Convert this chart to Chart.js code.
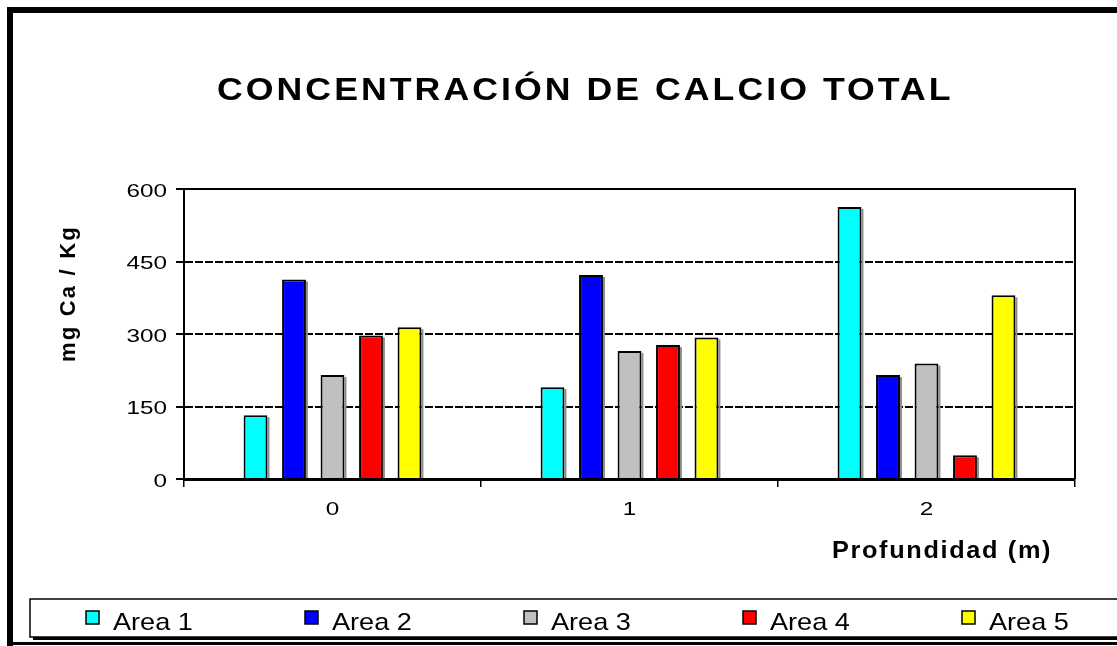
<!DOCTYPE html>
<html>
<head>
<meta charset="utf-8">
<script src="https://cdn.jsdelivr.net/npm/chart.js@4.4.0/dist/chart.umd.min.js"></script>
<style>
    html, body { margin: 0; padding: 0; background: #fff; }
    #wrap { width: 1117px; height: 646px; }
</style>
</head>
<body>
<div id="wrap"><canvas id="calcioChart" width="1117" height="646"></canvas></div>
<script>
    // Datos: calcio total (mg Ca / Kg) por profundidad y área
    const profundidades = ['0', '1', '2'];
    const areas = ['Area 1', 'Area 2', 'Area 3', 'Area 4', 'Area 5'];
    const area1 = [132, 190, 563];
    const area2 = [413, 422, 215];
    const area3 = [215, 265, 239];
    const area4 = [297, 277, 49];
    const area5 = [314, 293, 380];
    const coloresArea = ['#00ffff', '#0000ff', '#c0c0c0', '#ff0000', '#ffff00'];
    const ticksY = [0, 150, 300, 450, 600];

    const tituloGrafico = 'CONCENTRACIÓN DE CALCIO TOTAL';
    const tituloEjeY = 'mg Ca / Kg';
    const tituloEjeX = 'Profundidad (m)';

    const FUENTE = 'Arial, "Liberation Sans", sans-serif';
    const series = [area1, area2, area3, area4, area5];

    // Texto ensanchado horizontalmente (sx), con espaciado opcional entre letras
    function textoAncho(ctx, texto, x, y, sx, align, espaciado) {
        ctx.save();
        ctx.letterSpacing = (espaciado || 0) + 'px';
        const w = ctx.measureText(texto).width * sx;
        let x0 = x;
        if (align === 'right') x0 = x - w;
        else if (align === 'center') x0 = x - w / 2;
        ctx.translate(x0, y);
        ctx.scale(sx, 1);
        ctx.textAlign = 'left';
        ctx.fillText(texto, 0, 0);
        ctx.restore();
    }

    // Marco, leyenda, títulos, etiquetas de ejes y sombras de las barras
    const decoracion = {
        id: 'decoracion',
        beforeDraw(chart) {
            const ctx = chart.ctx;
            ctx.save();
            ctx.fillStyle = '#fff';
            ctx.fillRect(0, 0, chart.width, chart.height);
            ctx.restore();
        },
        beforeDatasetsDraw(chart) {
            const ctx = chart.ctx;
            ctx.save();
            ctx.fillStyle = '#8c8c8c';
            chart.data.datasets.forEach((ds, i) => {
                chart.getDatasetMeta(i).data.forEach(bar => {
                    const p = bar.getProps(['x', 'y', 'base', 'width'], true);
                    ctx.fillRect(p.x + p.width / 2, p.y + 2, 2, p.base - p.y - 2);
                });
            });
            ctx.restore();
        },
        afterDraw(chart) {
            const ctx = chart.ctx;
            const area = chart.chartArea;
            const ejeX = chart.scales.x;
            const ejeY = chart.scales.y;
            ctx.save();
            ctx.textBaseline = 'alphabetic';
            ctx.textAlign = 'left';

            // borde superior y derecho del área de trazado
            ctx.strokeStyle = '#000';
            ctx.lineWidth = 2;
            ctx.beginPath();
            ctx.moveTo(area.left, area.top);
            ctx.lineTo(area.right, area.top);
            ctx.lineTo(area.right, area.bottom);
            ctx.stroke();

            // etiquetas de los ejes, tomadas de las escalas
            ctx.fillStyle = '#000';
            ctx.font = '18px ' + FUENTE;
            ejeY.ticks.forEach((t, i) => {
                const y = ejeY.getPixelForTick(i);
                const etiqueta = t.label != null ? String(t.label) : String(t.value);
                textoAncho(ctx, etiqueta, area.left - 17, y + 7.5, 1.35, 'right');
            });
            ejeX.ticks.forEach((t, i) => {
                const x = ejeX.getPixelForTick(i);
                textoAncho(ctx, ejeX.getLabelForValue(t.value), x, area.bottom + 36, 1.35, 'center');
            });

            // marco exterior
            ctx.fillStyle = '#000';
            ctx.fillRect(7, 7, chart.width, 6);
            ctx.fillRect(7, 7, 6, chart.height);
            ctx.fillRect(7, 642, chart.width, 3);

            // caja de la leyenda con sombra
            ctx.fillRect(33, 602, chart.width, 38);
            ctx.fillStyle = '#fff';
            ctx.fillRect(30, 599, chart.width, 38);
            ctx.lineWidth = 1.5;
            ctx.strokeRect(30, 599, chart.width, 38);

            ctx.font = '24px ' + FUENTE;
            chart.data.datasets.forEach((ds, i) => {
                const x = 86 + i * 219;
                ctx.fillStyle = ds.backgroundColor;
                ctx.fillRect(x, 611, 13, 13);
                ctx.lineWidth = 1.5;
                ctx.strokeRect(x, 611, 13, 13);
                ctx.fillStyle = '#000';
                textoAncho(ctx, ds.label, x + 27, 630, 1.13, 'left');
            });

            // título principal
            ctx.fillStyle = '#000';
            ctx.font = 'bold 31px ' + FUENTE;
            textoAncho(ctx, tituloGrafico, 217, 100, 1.15, 'left', 2.65);

            // título del eje X
            ctx.font = 'bold 23px ' + FUENTE;
            textoAncho(ctx, tituloEjeX, 832, 558, 1.1, 'left', 1.5);

            // título del eje Y (girado)
            ctx.font = 'bold 22px ' + FUENTE;
            ctx.letterSpacing = '2.2px';
            ctx.translate(75, 362);
            ctx.rotate(-Math.PI / 2);
            ctx.fillText(tituloEjeY, 0, 0);

            ctx.restore();
        }
    };

    const ctx = document.getElementById('calcioChart').getContext('2d');

    new Chart(ctx, {
        type: 'bar',
        data: {
            labels: profundidades,
            datasets: areas.map((nombre, i) => ({
                label: nombre,
                data: series[i],
                backgroundColor: coloresArea[i],
                borderColor: '#000',
                borderWidth: 2,
                categoryPercentage: 0.648,
                barPercentage: 0.62
            }))
        },
        options: {
            responsive: false,
            animation: false,
            layout: {
                padding: { left: 0, right: 42, top: 189, bottom: 127 }
            },
            plugins: {
                legend: { display: false },
                title: { display: false },
                tooltip: { enabled: false }
            },
            scales: {
                x: {
                    grid: {
                        display: true,
                        drawOnChartArea: false,
                        offset: true,
                        color: '#000',
                        lineWidth: 1.5,
                        tickLength: 8
                    },
                    border: { display: true, color: '#000', width: 3 },
                    ticks: { display: false },
                    afterFit: scale => { scale.height = 40; }
                },
                y: {
                    min: 0,
                    max: 600,
                    afterBuildTicks: scale => {
                        scale.ticks = ticksY.map(v => ({ value: v }));
                    },
                    grid: {
                        color: '#000',
                        lineWidth: 2,
                        tickLength: 8
                    },
                    border: { display: true, color: '#000', width: 2, dash: [8, 2] },
                    ticks: { display: false },
                    afterFit: scale => { scale.width = 184; }
                }
            }
        },
        plugins: [decoracion]
    });
</script>
</body>
</html>
